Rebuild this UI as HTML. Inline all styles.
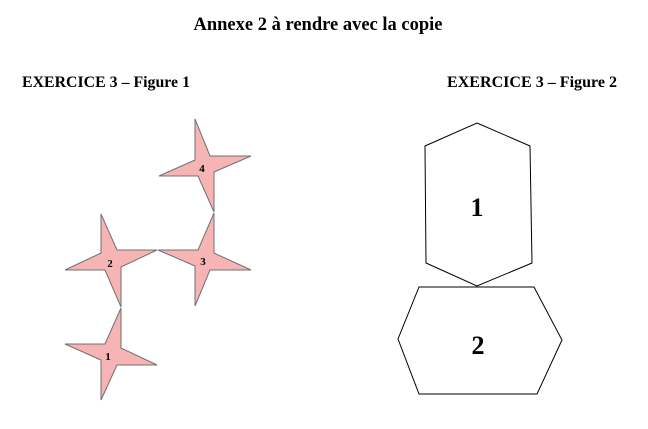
<!DOCTYPE html>
<html><head><meta charset="utf-8"><style>
html,body{margin:0;padding:0;background:#fff;width:648px;height:429px;overflow:hidden}
</style></head><body>
<svg width="648" height="429" xmlns="http://www.w3.org/2000/svg" font-family="Liberation Serif, serif" font-weight="bold">
<text x="318" y="30" font-size="18.5" text-anchor="middle">Annexe 2 à rendre avec la copie</text>
<text x="22" y="87" font-size="15.5" textLength="168" lengthAdjust="spacingAndGlyphs">EXERCICE 3 – Figure 1</text>
<text x="447" y="87" font-size="15.5" textLength="170" lengthAdjust="spacingAndGlyphs">EXERCICE 3 – Figure 2</text>
<g fill="#f7b4b4" stroke="#707070" stroke-width="1">
<polygon points="195,119 210,156 251,156 214,172 214,212 198,176 159,176 195,160"/>
<polygon points="214,213 214,253 251,270 210,270 195,306 195,266 158,250 198,250"/>
<polygon points="101,214 117,250 157,250 121,267 121,307 105,270 65,270 101,253"/>
<polygon points="121,308 121,348 157,365 117,365 101,400 101,360 65,344 105,344"/>
</g>
<g font-size="11" text-anchor="middle">
<text x="202" y="172">4</text>
<text x="203" y="265">3</text>
<text x="110" y="267">2</text>
<text x="108" y="360">1</text>
</g>
<g fill="none" stroke="#000" stroke-width="1">
<polygon points="477,123 530,146 532,263 477,286 426,263 425,146"/>
<polygon points="419,287 534,287 562,340 537,394 419,394 398,339"/>
</g>
<g font-size="26" text-anchor="middle">
<text x="477" y="216">1</text>
<text x="478" y="354">2</text>
</g>
</svg>
</body></html>
